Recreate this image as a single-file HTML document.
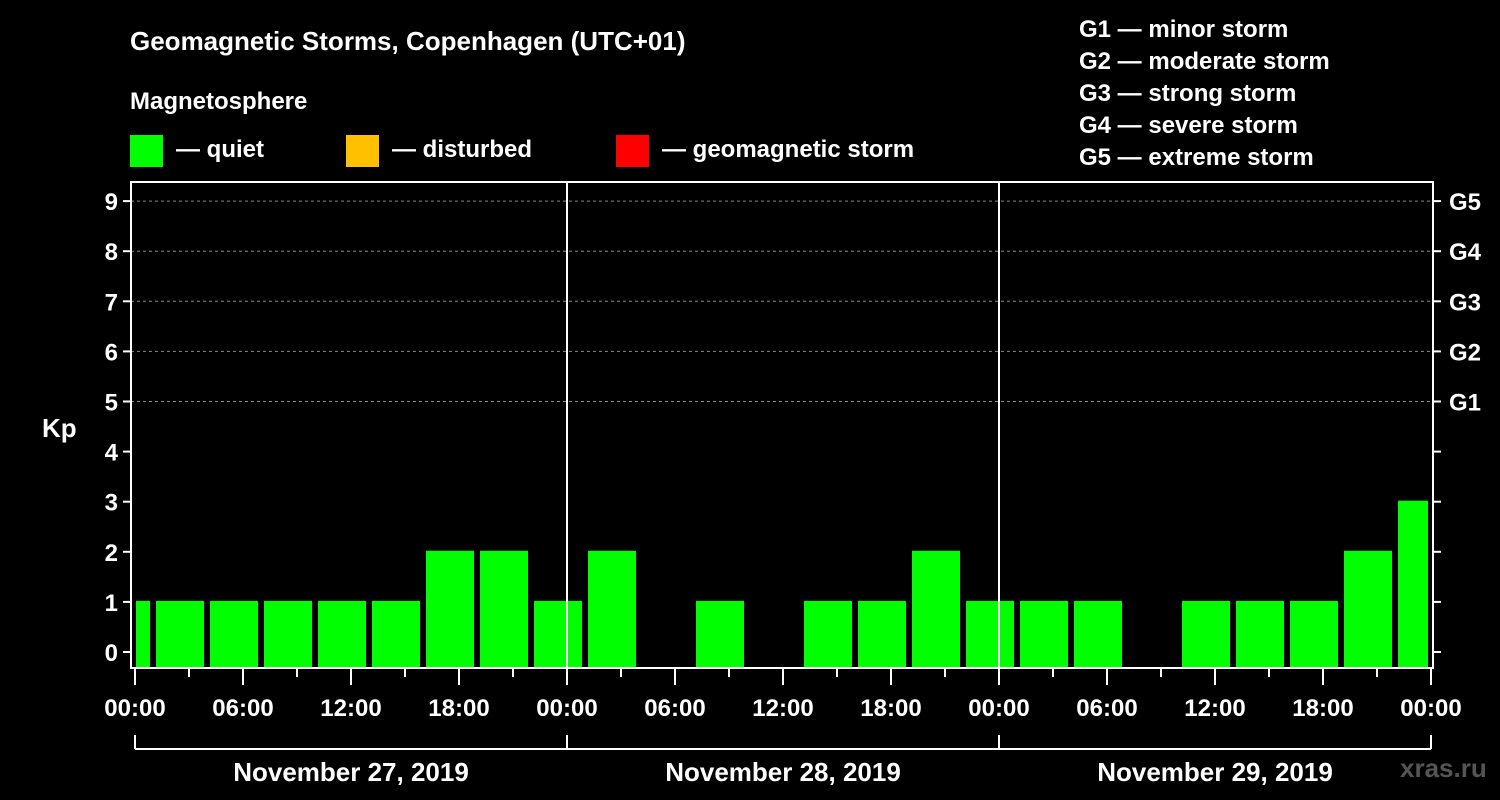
<!DOCTYPE html>
<html><head><meta charset="utf-8"><style>
html,body{margin:0;padding:0;background:#000;}
svg{display:block;font-family:"Liberation Sans",sans-serif;font-weight:bold;}
</style></head><body>
<svg width="1500" height="800" viewBox="0 0 1500 800">
<text x="130" y="50" fill="#fff" font-size="26">Geomagnetic Storms, Copenhagen (UTC+01)</text>
<text x="130" y="109" fill="#fff" font-size="24">Magnetosphere</text>
<rect x="130" y="135" width="33" height="32" fill="#00ff00"/>
<text x="176" y="157" fill="#fff" font-size="24">— quiet</text>
<rect x="346" y="135" width="33" height="32" fill="#ffc000"/>
<text x="392" y="157" fill="#fff" font-size="24">— disturbed</text>
<rect x="616" y="135" width="33" height="32" fill="#ff0000"/>
<text x="662" y="157" fill="#fff" font-size="24">— geomagnetic storm</text>
<g fill="#fff" font-size="24">
<text x="1079" y="37">G1 — minor storm</text>
<text x="1079" y="69">G2 — moderate storm</text>
<text x="1079" y="101">G3 — strong storm</text>
<text x="1079" y="133">G4 — severe storm</text>
<text x="1079" y="165">G5 — extreme storm</text>
</g>
<text x="42" y="437" fill="#fff" font-size="26">Kp</text>
<text x="1400" y="777" fill="#555" font-size="26" font-weight="bold">xras.ru</text>
<g id="grid"></g><g id="bars"></g><g id="axes"></g>
</svg>
<script>
const kpValues=[1,1,1,1,1,1,2,2,1,2,0,1,0,1,1,2,1,1,1,0,1,1,1,2,3];
const yTicks=[0,1,2,3,4,5,6,7,8,9];
const gLabels=["G1","G2","G3","G4","G5"];
const gLevels=[5,6,7,8,9];
const dayLabels=["November 27, 2019","November 28, 2019","November 29, 2019"];
const hourLabels=["00:00","06:00","12:00","18:00"];
const NS="http://www.w3.org/2000/svg";
const L=131,R=1433,T=182,B=668,X0=135,DAY=432;
const y=v=>652-v*50.1;
const x=h=>X0+h*DAY/24;
function mk(t,a,p){const e=document.createElementNS(NS,t);for(const k in a)e.setAttribute(k,a[k]);p.appendChild(e);return e;}
const grid=document.getElementById('grid'),bars=document.getElementById('bars'),axes=document.getElementById('axes');
gLevels.forEach(v=>{const l=mk('line',{x1:L,x2:R,y1:y(v),y2:y(v),stroke:'#888','stroke-dasharray':'3,3','stroke-width':1},grid);

});
kpValues.forEach((v,i)=>{
 if(v<=0)return;
 let s=x(-2+i*3)+3,e=x(1+i*3)-3;
 s=Math.max(s,x(0)+1);e=Math.min(e,x(72)-3);
 const r=mk('rect',{x:s,y:y(v)-1,width:e-s,height:B-y(v)+1,fill:'#00ff00'},bars);
 
 
});
mk('rect',{x:L,y:T,width:R-L,height:B-T,fill:'none',stroke:'#fff','stroke-width':2},axes);
[1,2].forEach(d=>{mk('line',{x1:x(24*d),x2:x(24*d),y1:T,y2:B,stroke:'#fff','stroke-width':2},axes);});
yTicks.forEach(v=>{
 mk('line',{x1:L-8,x2:L,y1:y(v),y2:y(v),stroke:'#fff','stroke-width':2},axes);
 mk('line',{x1:R,x2:R+8,y1:y(v),y2:y(v),stroke:'#fff','stroke-width':2},axes);
 const t=mk('text',{x:L-13,y:y(v)+9,fill:'#fff','font-size':24,'text-anchor':'end'},axes);t.textContent=v;
 
 
});
gLabels.forEach((g,i)=>{const t=mk('text',{x:1449,y:y(gLevels[i])+9,fill:'#fff','font-size':24},axes);t.textContent=g;
 
 });
for(let h=0;h<=72;h+=3){
 const major=h%6===0;
 mk('line',{x1:x(h),x2:x(h),y1:B,y2:B+(major?17:9),stroke:'#fff','stroke-width':2},axes);
 if(major){const t=mk('text',{x:x(h),y:716,fill:'#fff','font-size':24,'text-anchor':'middle'},axes);t.textContent=hourLabels[(h/6)%4];
 
 }
}
mk('line',{x1:x(0),x2:x(72),y1:749,y2:749,stroke:'#fff','stroke-width':2},axes);
for(let d=0;d<=3;d++)mk('line',{x1:x(24*d),x2:x(24*d),y1:735,y2:749,stroke:'#fff','stroke-width':2},axes);
dayLabels.forEach((s,d)=>{const t=mk('text',{x:x(24*d+12),y:781,fill:'#fff','font-size':26,'text-anchor':'middle'},axes);t.textContent=s;
 
 });
</script>
</body></html>
